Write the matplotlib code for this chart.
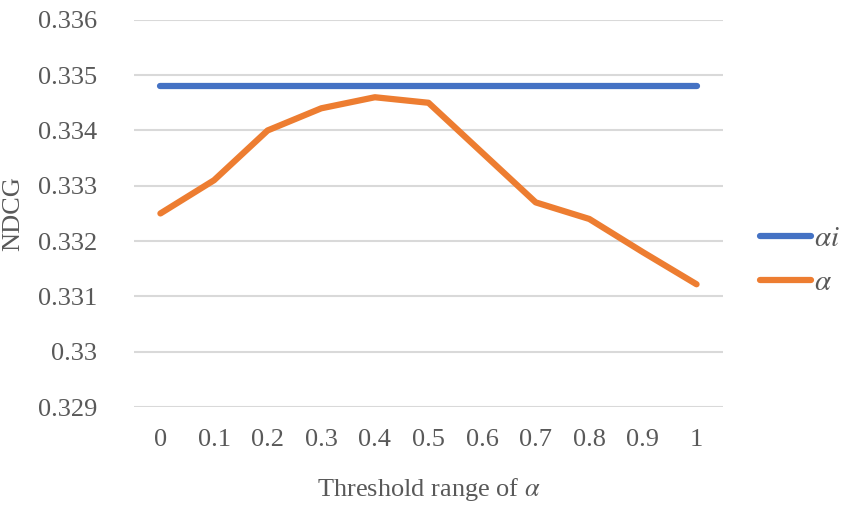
import matplotlib.pyplot as plt

# datos
umbrales = ['0', '0.1', '0.2', '0.3', '0.4', '0.5', '0.6', '0.7', '0.8', '0.9', '1']
ndcg_alpha_i = [0.3348] * len(umbrales)
ndcg_alpha = [0.3325, 0.3331, 0.3340, 0.3344, 0.3346, 0.3345,
              0.3336, 0.3327, 0.3324, 0.3318, 0.33122]
yticks = [0.329, 0.33, 0.331, 0.332, 0.333, 0.334, 0.335, 0.336]
ytick_labels = ['0.329', '0.33', '0.331', '0.332', '0.333', '0.334', '0.335', '0.336']

plt.rcParams['font.family'] = ['Liberation Serif', 'DejaVu Serif']
plt.rcParams['mathtext.fontset'] = 'stix'

fig = plt.figure(figsize=(8.51, 5.07), dpi=100)
ax = fig.add_axes([0.157, 0.197, 0.693, 0.764])

x = range(len(umbrales))
ax.plot(x, ndcg_alpha_i, color='#4472C4', linewidth=4.5, solid_capstyle='round',
        label=r'$\alpha i$', zorder=3)
ax.plot(x, ndcg_alpha, color='#ED7D31', linewidth=4.5, solid_capstyle='round',
        solid_joinstyle='round', label=r'$\alpha$', zorder=3)

ax.set_xlim(-0.5, len(umbrales) - 0.5)
ax.set_ylim(0.329, 0.336)
ax.set_yticks(yticks)
ax.set_yticklabels(ytick_labels)
ax.set_xticks(list(x))
ax.set_xticklabels(umbrales)

ax.grid(axis='y', color='#D9D9D9', linewidth=1.5)
ax.set_axisbelow(True)
for s in ax.spines.values():
    s.set_visible(False)
ax.tick_params(length=0, labelsize=19, colors='#595959', pad=16)
ax.tick_params(axis='y', pad=26)

ax.set_xlabel(r'Threshold range of $\alpha$', fontsize=19, color='#595959', labelpad=18)
ax.set_ylabel('NDCG', fontsize=19, color='#595959', labelpad=10)

leg = ax.legend(loc='center left', bbox_to_anchor=(760 / 851, 1 - 261 / 507),
                bbox_transform=fig.transFigure, frameon=False, borderpad=0,
                borderaxespad=0, fontsize=21, handlelength=1.75,
                handletextpad=0.1, labelspacing=0.6)
for t in leg.get_texts():
    t.set_color('#595959')

fig.savefig('out.png', dpi=100)
